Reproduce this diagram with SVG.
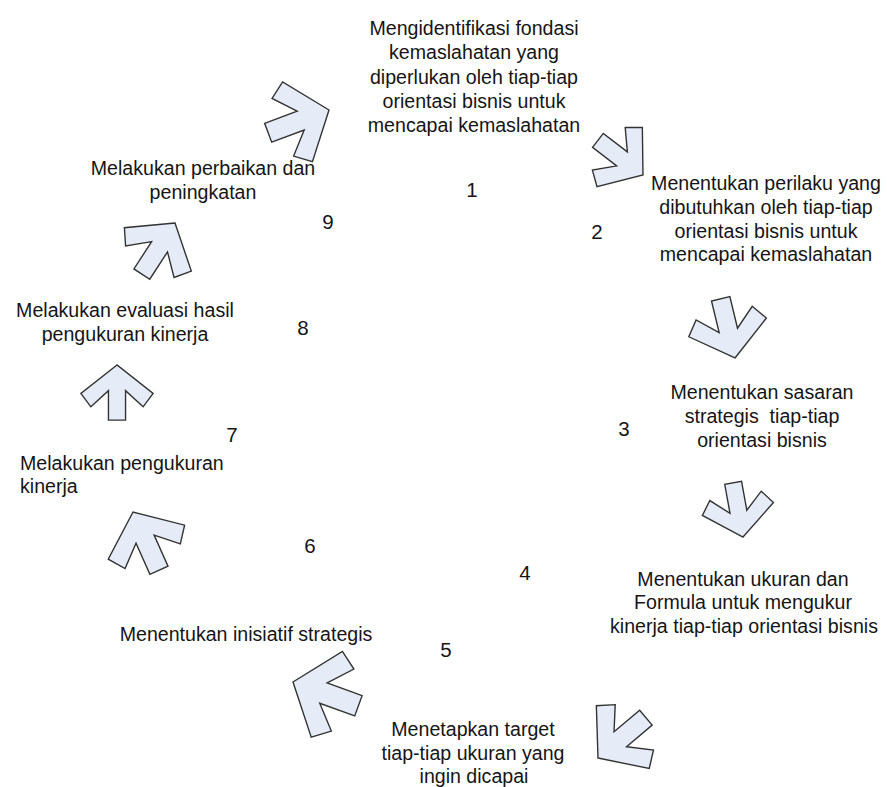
<svg xmlns="http://www.w3.org/2000/svg" xmlns:xlink="http://www.w3.org/1999/xlink" width="887" height="787" viewBox="0 0 887 787">
<style>
.t{font-family:"Liberation Sans",Arial,sans-serif;font-size:19.6px;fill:#151515;text-anchor:middle;white-space:pre}
.l{text-anchor:start}
.n{font-family:"Liberation Sans",Arial,sans-serif;font-size:20.5px;fill:#151515;text-anchor:middle}
.a{fill:#E6ECF7;stroke:#333;stroke-width:1.4;stroke-linejoin:miter;vector-effect:non-scaling-stroke}
</style>
<defs>
<path id="arr" class="a" d="M0,0 L-30,-38 L-44,-27.5 L-27,-9 L-58,-9 L-58,9 L-27,9 L-44,27.5 L-30,38 Z"/>
</defs>
<rect width="887" height="787" fill="#fff"/>
<g id="connectors">
<use xlink:href="#arr" transform="translate(329,110) rotate(-20.5) scale(1.12)"/>
<use xlink:href="#arr" transform="translate(643,175) rotate(37.5) scale(0.98)"/>
<use xlink:href="#arr" transform="translate(735,358) rotate(76.4) scale(1.05)"/>
<use xlink:href="#arr" transform="translate(743,537) rotate(79.7) scale(0.95)"/>
<use xlink:href="#arr" transform="translate(598,758) rotate(139.9) scale(1.08)"/>
<use xlink:href="#arr" transform="translate(293,682) rotate(200) scale(1.2)"/>
<use xlink:href="#arr" transform="translate(133,512) rotate(246) scale(1.1)"/>
<use xlink:href="#arr" transform="translate(117,365) rotate(-90) scale(0.95)"/>
<use xlink:href="#arr" transform="translate(175,223) rotate(-57) scale(1.05)"/>
</g>
<g id="node1">
<text class="t" x="474" y="35">Mengidentifikasi fondasi</text>
<text class="t" x="474" y="59">kemaslahatan yang</text>
<text class="t" x="474" y="84">diperlukan oleh tiap-tiap</text>
<text class="t" x="474" y="108">orientasi bisnis untuk</text>
<text class="t" x="474" y="132">mencapai kemaslahatan</text>
<text class="n" x="472" y="197">1</text>
</g>
<g id="node2">
<text class="t" x="766" y="190">Menentukan perilaku yang</text>
<text class="t" x="766" y="214">dibutuhkan oleh tiap-tiap</text>
<text class="t" x="766" y="238">orientasi bisnis untuk</text>
<text class="t" x="766" y="261">mencapai kemaslahatan</text>
<text class="n" x="597" y="239">2</text>
</g>
<g id="node3">
<text class="t" x="762" y="399">Menentukan sasaran</text>
<text class="t" x="762" y="423">strategis  tiap-tiap</text>
<text class="t" x="762" y="447">orientasi bisnis</text>
<text class="n" x="624" y="436">3</text>
</g>
<g id="node4">
<text class="t" x="743" y="586">Menentukan ukuran dan</text>
<text class="t" x="743" y="609">Formula untuk mengukur</text>
<text class="t" x="744" y="633">kinerja tiap-tiap orientasi bisnis</text>
<text class="n" x="525" y="580">4</text>
</g>
<g id="node5">
<text class="t" x="473" y="736">Menetapkan target</text>
<text class="t" x="473" y="760">tiap-tiap ukuran yang</text>
<text class="t" x="474" y="783">ingin dicapai</text>
<text class="n" x="446" y="657">5</text>
</g>
<g id="node6">
<text class="t" x="246" y="641">Menentukan inisiatif strategis</text>
<text class="n" x="310" y="553">6</text>
</g>
<g id="node7">
<text class="t l" x="20" y="470">Melakukan pengukuran</text>
<text class="t l" x="20" y="493">kinerja</text>
<text class="n" x="232" y="442">7</text>
</g>
<g id="node8">
<text class="t" x="125" y="317">Melakukan evaluasi hasil</text>
<text class="t" x="125" y="341">pengukuran kinerja</text>
<text class="n" x="303" y="335">8</text>
</g>
<g id="node9">
<text class="t" x="203" y="175">Melakukan perbaikan dan</text>
<text class="t" x="203" y="199">peningkatan</text>
<text class="n" x="328" y="229">9</text>
</g>
</svg>
